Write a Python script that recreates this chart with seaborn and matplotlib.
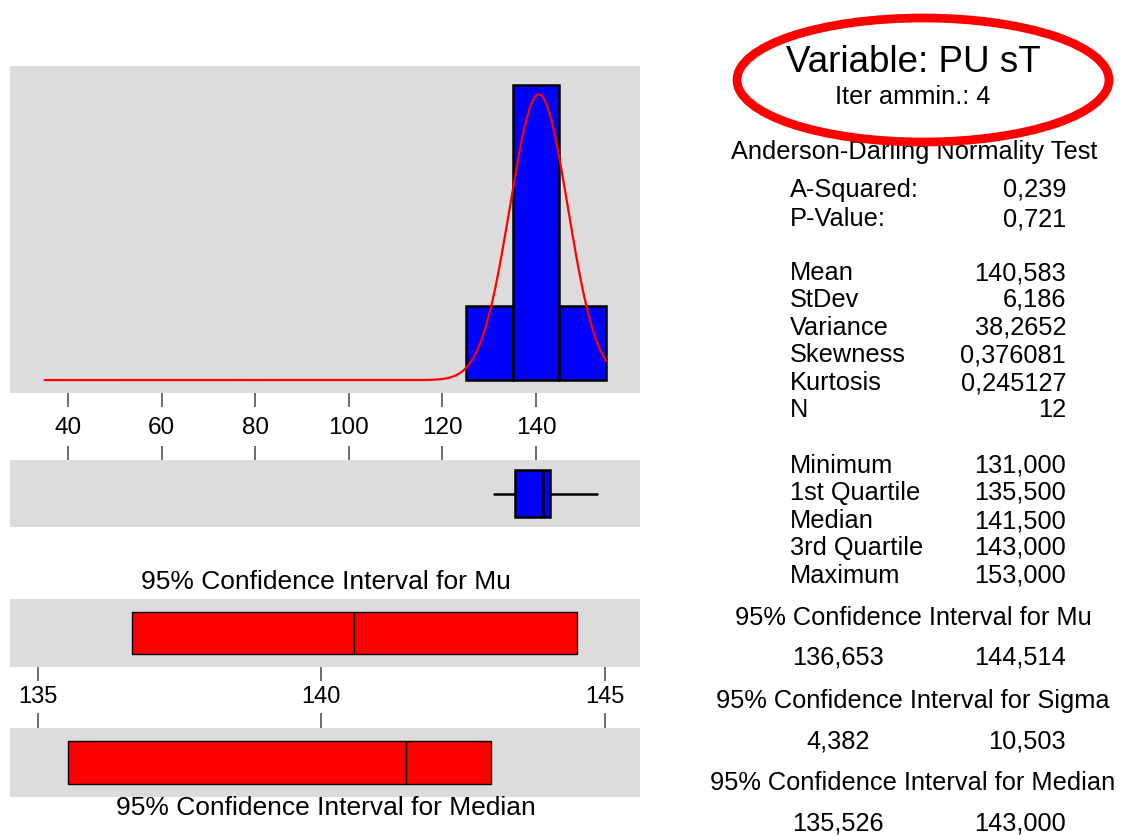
import numpy as np
import matplotlib
matplotlib.use("Agg")
import matplotlib.pyplot as plt
from matplotlib.patches import Ellipse
import seaborn as sns

sns.set_theme(style="white")
plt.rcParams['font.family'] = ['Liberation Sans', 'DejaVu Sans']
plt.rcParams['text.color'] = 'black'
plt.rcParams['xtick.labelcolor'] = 'black'

# --- Dati ---
BIN_EDGES = [125, 135, 145, 155]
BIN_CENTERS = [130, 140, 150]
BIN_COUNTS = [2, 8, 2]

N = 12
MEAN = 140.583
STDEV = 6.186

BOX_STATS = {'whislo': 131.0, 'q1': 135.5, 'med': 141.5, 'q3': 143.0, 'whishi': 153.0}

CI_MU = [136.653, 144.514]
CI_MEDIAN = [135.526, 143.000]
MEDIAN = 141.5

HIST_TICKS = [40, 60, 80, 100, 120, 140]
CI_TICKS = [135, 140, 145]

TITLE = "Variable: PU sT"
SUBTITLE = "Iter ammin.: 4"
STAT_LABELS = ["A-Squared:", "P-Value:", "Mean", "StDev", "Variance", "Skewness",
               "Kurtosis", "N", "Minimum", "1st Quartile", "Median", "3rd Quartile", "Maximum"]
STAT_VALUES = ["0,239", "0,721", "140,583", "6,186", "38,2652", "0,376081",
               "0,245127", "12", "131,000", "135,500", "141,500", "143,000", "153,000"]
CI_TITLES = ["95% Confidence Interval for Mu", "95% Confidence Interval for Sigma",
             "95% Confidence Interval for Median"]
CI_VALUES = [("136,653", "144,514"), ("4,382", "10,503"), ("135,526", "143,000")]

GRIGIO = '#dcdcdc'
BLU = '#0000ff'
ROSSO = '#ff0000'
TICK = '#444444'

W, H = 1122, 835
fig = plt.figure(figsize=(W / 100, H / 100), dpi=100, facecolor='white')


def pannello(x0, y0, x1, y1):
    ax = fig.add_axes([x0 / W, 1 - y1 / H, (x1 - x0) / W, (y1 - y0) / H])
    ax.set_facecolor(GRIGIO)
    for s in ax.spines.values():
        s.set_visible(False)
    ax.set_yticks([])
    return ax


def testo(x, y, s, **kw):
    fig.text(x / W, 1 - y / H, s, va='center', color='black', **kw)


# --- Istogramma + curva normale ---
ax_h = pannello(10, 66, 640, 393)
sns.histplot(x=BIN_CENTERS, weights=BIN_COUNTS, bins=BIN_EDGES, color=BLU,
             edgecolor='black', linewidth=1.8, alpha=1, ax=ax_h)
xs = np.linspace(35, 155, 400)
ys = N * 10 * np.exp(-0.5 * ((xs - MEAN) / STDEV) ** 2) / (STDEV * np.sqrt(2 * np.pi))
sns.lineplot(x=xs, y=ys, color=ROSSO, linewidth=1.6, ax=ax_h)
ax_h.set_xlim(27.6, 162.2)
ax_h.set_ylim(-0.35, 8.51)
ax_h.set_xticks(HIST_TICKS)
ax_h.tick_params(axis='x', direction='out', length=10, width=1.1, color=TICK,
                 pad=7, labelsize=17.5, bottom=True)
ax_h.set_xlabel("")
ax_h.set_ylabel("")

# --- Boxplot ---
ax_b = pannello(10, 460, 640, 527)
ax_b.bxp([dict(BOX_STATS, fliers=[])], orientation='horizontal', positions=[0.5],
         widths=0.69, patch_artist=True, showcaps=False,
         boxprops=dict(facecolor=BLU, edgecolor='black', linewidth=1.8),
         medianprops=dict(color='black', linewidth=1.8),
         whiskerprops=dict(color='black', linewidth=1.8))
ax_b.set_xlim(27.6, 162.2)
ax_b.set_ylim(0, 1)
ax_b.set_yticks([])
ax_b.xaxis.set_ticks_position('top')
ax_b.set_xticks(HIST_TICKS)
ax_b.tick_params(axis='x', direction='out', length=10, width=1.1, color=TICK,
                 top=True, labeltop=False, labelbottom=False)

# --- Intervalli di confidenza ---
ax_mu = pannello(10, 599, 640, 667)
ax_mu.barh(0.5, MEAN - CI_MU[0], left=CI_MU[0], height=0.62, color=ROSSO,
           edgecolor='black', linewidth=1)
ax_mu.barh(0.5, CI_MU[1] - MEAN, left=MEAN, height=0.62, color=ROSSO,
           edgecolor='black', linewidth=1)
ax_mu.set_xlim(134.51, 145.62)
ax_mu.set_ylim(0, 1)
ax_mu.set_xticks(CI_TICKS)
ax_mu.tick_params(axis='x', direction='out', length=10, width=1.1, color=TICK,
                  pad=4, labelsize=17, bottom=True)

ax_md = pannello(10, 728, 640, 797)
ax_md.barh(0.5, MEDIAN - CI_MEDIAN[0], left=CI_MEDIAN[0], height=0.62, color=ROSSO,
           edgecolor='black', linewidth=1)
ax_md.barh(0.5, CI_MEDIAN[1] - MEDIAN, left=MEDIAN, height=0.62, color=ROSSO,
           edgecolor='black', linewidth=1)
ax_md.set_xlim(134.51, 145.62)
ax_md.set_ylim(0, 1)
ax_md.xaxis.set_ticks_position('top')
ax_md.set_xticks(CI_TICKS)
ax_md.tick_params(axis='x', direction='out', length=10.5, width=1.1, color=TICK,
                  top=True, labeltop=False, labelbottom=False)

testo(326, 582, CI_TITLES[0], ha='center', fontsize=19)
testo(326, 808, CI_TITLES[2], ha='center', fontsize=19)

# --- Colonna di destra ---
testo(913, 62, TITLE, ha='center', fontsize=26.5)
testo(913, 97, SUBTITLE, ha='center', fontsize=18.3)
testo(914, 152, "Anderson-Darling Normality Test", ha='center', fontsize=18.3)

righe_y = [190, 219, 273, 300, 328, 355, 383, 410, 466, 493, 521, 548, 576]
for y, lab, val in zip(righe_y, STAT_LABELS, STAT_VALUES):
    testo(790, y, lab, ha='left', fontsize=18.3)
    testo(1066, y, val, ha='right', fontsize=18.3)

titoli_y = [618, 701, 783]
valori_y = [658, 741, 823]
for ty, vy, tit, (v1, v2) in zip(titoli_y, valori_y, CI_TITLES, CI_VALUES):
    testo(913, ty, tit, ha='center', fontsize=18.3)
    testo(838, vy, v1, ha='center', fontsize=18.3)
    testo(1066, vy, v2, ha='right', fontsize=18.3)

# ellisse rossa attorno al titolo (sopra al testo, come nell'originale)
fig.patches.append(Ellipse((923 / W, 1 - 80 / H), 372 / W, 124 / H, fill=False,
                           edgecolor=ROSSO, linewidth=6.3, zorder=5,
                           transform=fig.transFigure, figure=fig))

fig.savefig("out.png", dpi=100, facecolor='white')
